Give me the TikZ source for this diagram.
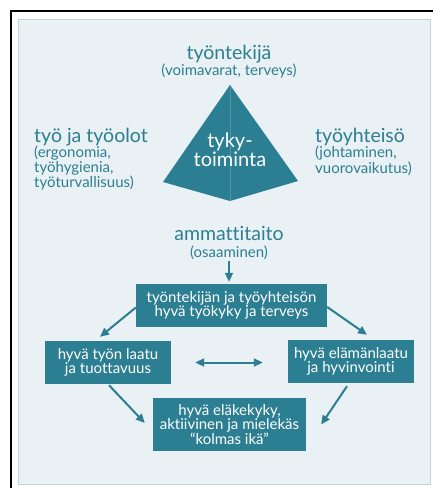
\documentclass[tikz,border=0pt]{standalone}
\usepackage{fontspec}
\setmainfont{Lato}[Ligatures=NoCommon]
\usetikzlibrary{arrows.meta,positioning,calc}
\definecolor{tykyteal}{RGB}{44,127,146}
\definecolor{ridgeteal}{RGB}{78,150,168}
\definecolor{panelblue}{RGB}{233,241,244}
\definecolor{paneledge}{RGB}{192,211,217}

\begin{document}
\begin{tikzpicture}[
    x=1pt, y=-1pt,
    title/.style={text=tykyteal, inner sep=0pt, font=\fontsize{19.5}{19.5}\selectfont},
    note/.style={text=tykyteal, inner sep=0pt, align=left, font=\fontsize{15}{13}\selectfont},
    box/.style={rectangle, fill=tykyteal, text=white, inner sep=0pt,
        align=center, font=\fontsize{15}{14.5}\selectfont},
    arr/.style={-{Triangle[length=9pt,width=8pt]}, line width=2pt, tykyteal},
    biarr/.style={{Triangle[length=9pt,width=8pt]}-{Triangle[length=9pt,width=8pt]}, line width=2pt, tykyteal}
]
\useasboundingbox (0,0) rectangle (433,488);
% frame and panel
\draw[line width=2.5pt] (11,488) -- (11,11) -- (433,11);
\draw[paneledge, fill=panelblue] (18,19) rectangle (430,484);

% pyramid
\coordinate (apex) at (230,85);
\coordinate (pleft) at (163,182);
\coordinate (pright) at (298,181);
\coordinate (pfoot) at (230,201);
\fill[tykyteal] (apex) -- (pleft) -- (pfoot) -- (pright) -- cycle;
\draw[ridgeteal, line width=0.6pt] (apex) -- (pfoot);
\node[text=white, inner sep=0pt, align=center, font=\fontsize{20}{16.5}\selectfont]
    (tyky) at (230,150) {tyky-\\toiminta};

% corner texts
\node[title, anchor=base] (worker) at (229,59) {työntekijä};
\node[note, anchor=base] (workersub) at (229,75) {(voimavarat, terveys)};
\node[title, anchor=base west] (work) at (34,142) {työ ja työolot};
\node[note, anchor=north west] (worksub) at (34,146) {(ergonomia,\\työhygienia,\\työturvallisuus)};
\node[title, anchor=base west] (community) at (315,142) {työyhteisö};
\node[note, anchor=north west] (communitysub) at (315,146) {(johtaminen,\\vuorovaikutus)};
\node[title, anchor=base] (skill) at (229,240) {ammattitaito};
\node[note, anchor=base] (skillsub) at (229,257) {(osaaminen)};

% outcome boxes
\node[box, minimum width=191pt, minimum height=43pt] (ability) at (231.5,305.5)
    {työntekijän ja työyhteisön\\hyvä työkyky ja terveys};
\node[box, minimum width=126pt, minimum height=43pt] (quality) at (108,362.5)
    {hyvä työn laatu\\ja tuottavuus};
\node[box, minimum width=126pt, minimum height=43pt] (life) at (351,361.5)
    {hyvä elämänlaatu\\ja hyvinvointi};
\node[box, minimum width=153pt, minimum height=53pt] (retire) at (229.5,424.5)
    {hyvä eläkekyky,\\aktiivinen ja mielekäs\\“kolmas ikä”};

\draw[arr] (skillsub.south) ++(0,2) -- ($(ability.north)+(-2.5,-2)$);
\draw[arr] ($(ability.west)+(0,2)$) -- ($(quality.north)+(-8,-4)$);
\draw[arr] ($(ability.east)+(0,1.5)$) -- ($(life.north)+(16,-5)$);
\draw[biarr, shorten <=24pt, shorten >=25pt] (quality.east) -- (quality.east -| life.west);
\draw[arr] ($(quality.south)+(1,1)$) -- ($(retire.west)+(-8,-1.5)$);
\draw[arr] ($(life.south)+(-4,3)$) -- ($(retire.east)+(15,0)$);
\end{tikzpicture}
\end{document}
